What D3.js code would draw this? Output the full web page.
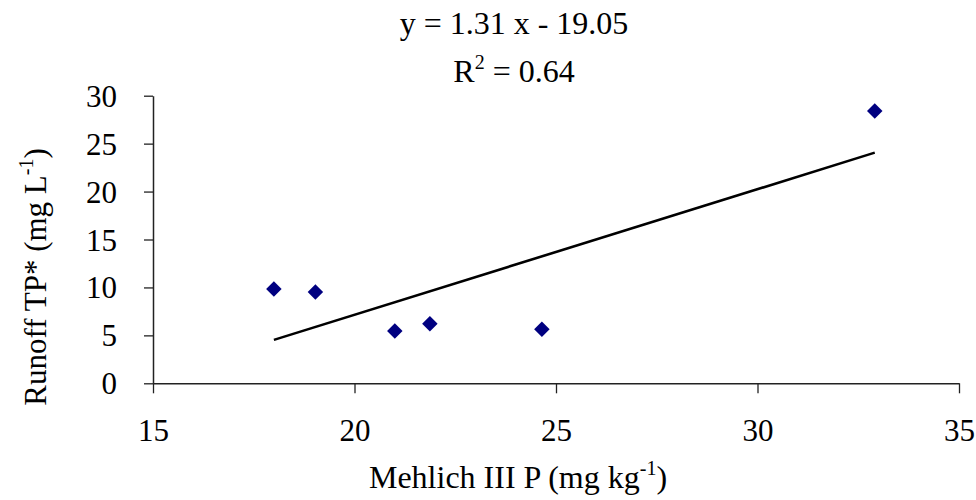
<!DOCTYPE html>
<html><head><meta charset="utf-8">
<script src="https://cdn.jsdelivr.net/npm/d3@7"></script>
<style>body{margin:0;background:#fff}svg{display:block}text{font-family:"Liberation Serif","Times New Roman",serif;fill:#000}</style>
</head><body>
<script>
const xValues = [18.0, 19.03, 21.0, 21.87, 24.65, 32.91];
const yValues = [9.84, 9.53, 5.46, 6.22, 5.63, 28.4];
const slope = 1.31, intercept = -19.05, r2 = 0.64;
const xTicks = [15, 20, 25, 30, 35];
const yTicks = [0, 5, 10, 15, 20, 25, 30];

const W = 976, H = 500;
const m = {left:153, right:959, top:95.7, bottom:383.3};
const svg = d3.select("body").append("svg").attr("width", W).attr("height", H);
const x = d3.scaleLinear().domain([15, 35]).range([m.left, m.right]);
const y = d3.scaleLinear().domain([0, 30]).range([m.bottom, m.top]);

const xAxis = svg.append("g").attr("transform", `translate(0,${m.bottom})`)
  .call(d3.axisBottom(x).tickValues(xTicks).tickSize(10).tickSizeOuter(0));
const yAxis = svg.append("g").attr("transform", `translate(${m.left},0)`)
  .call(d3.axisLeft(y).tickValues(yTicks).tickSize(9).tickSizeOuter(0));
[xAxis, yAxis].forEach(g => {
  g.select(".domain").attr("stroke", "#222").attr("stroke-width", 1.5);
  g.selectAll(".tick line").attr("stroke", "#222").attr("stroke-width", 1.3);
  g.selectAll(".tick text").style("font-family", '"Liberation Serif",serif').style("font-size", "31px").attr("fill", "#000");
});
yAxis.selectAll(".tick text").attr("x", -36).attr("dy", "0.34em");
xAxis.selectAll(".tick text").attr("y", 58).attr("dy", 0);

// trend line
const x0 = d3.min(xValues), x1 = d3.max(xValues);
svg.append("line")
  .attr("x1", x(x0)).attr("y1", y(slope*x0+intercept))
  .attr("x2", x(x1)).attr("y2", y(slope*x1+intercept))
  .attr("stroke", "#000").attr("stroke-width", 2.6);

// points
const diamond = d3.symbol().type(d3.symbolSquare).size(120);
svg.selectAll(".pt").data(xValues.map((v,i)=>[v,yValues[i]])).enter().append("path")
  .attr("d", diamond)
  .attr("transform", d => `translate(${x(d[0])},${y(d[1])}) rotate(45)`)
  .attr("fill", "#000080");

// equation
svg.append("text").attr("x", 514).attr("y", 34).attr("text-anchor", "middle")
  .style("font-size", "32px").text(`y = ${slope} x - ${Math.abs(intercept).toFixed(2)}`);
const r = svg.append("text").attr("x", 514).attr("y", 82).attr("text-anchor", "middle").style("font-size", "32px");
r.append("tspan").text("R");
r.append("tspan").attr("dy", -13).style("font-size", "20px").text("2");
r.append("tspan").attr("dy", 13).text(` = ${r2.toFixed(2)}`);

// x title
const xt = svg.append("text").attr("x", 518).attr("y", 488).attr("text-anchor", "middle").style("font-size", "32px");
xt.append("tspan").text("Mehlich III P (mg kg");
xt.append("tspan").attr("dy", -13).style("font-size", "20px").text("-1");
xt.append("tspan").attr("dy", 13).text(")");

// y title
const yt = svg.append("text").attr("transform", "translate(46,277) rotate(-90)").attr("text-anchor", "middle").style("font-size", "31px");
yt.append("tspan").text("Runoff TP* (mg L");
yt.append("tspan").attr("dy", -13).style("font-size", "20px").text("-1");
yt.append("tspan").attr("dy", 13).text(")");
</script>
</body></html>
